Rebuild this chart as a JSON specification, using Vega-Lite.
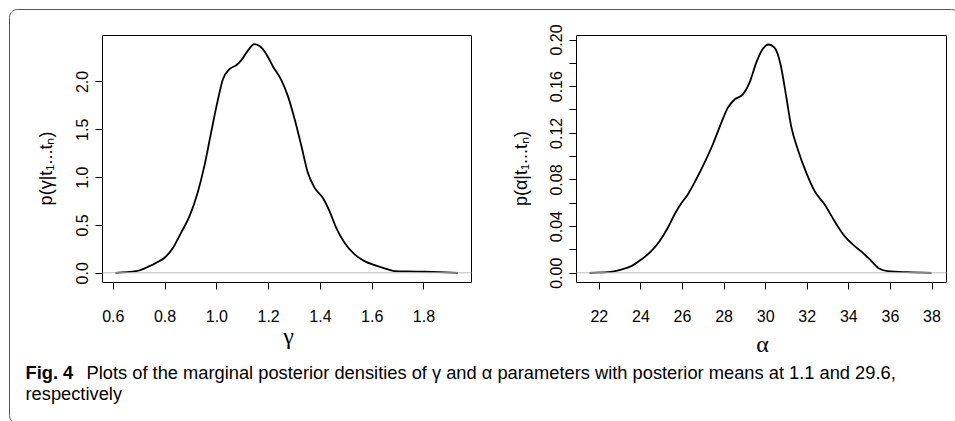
{
  "$schema": "https://vega.github.io/schema/vega-lite/v6.json",
  "width": 950,
  "height": 414,
  "autosize": {"type": "none"},
  "padding": {"left": 9, "top": 9, "right": 0, "bottom": 0},
  "background": "white",
  "config": {
    "view": {"stroke": "#555555", "strokeWidth": 1, "cornerRadius": 8},
    "axis": {
      "grid": false,
      "labelFont": "Liberation Sans",
      "labelFontSize": 16,
      "labelColor": "black",
      "labelFlush": false,
      "labelOverlap": false,
      "tickColor": "black",
      "tickSize": 7,
      "tickWidth": 1,
      "domainColor": "black",
      "domainWidth": 1,
      "titleFont": "Liberation Sans",
      "titleFontWeight": "normal",
      "titleColor": "black"
    }
  },
  "datasets": {
    "gamma": [
      {"gamma": 0.610, "density": 0.0},
      {"gamma": 0.690, "density": 0.017},
      {"gamma": 0.742, "density": 0.07},
      {"gamma": 0.768, "density": 0.105},
      {"gamma": 0.800, "density": 0.157},
      {"gamma": 0.832, "density": 0.26},
      {"gamma": 0.864, "density": 0.42},
      {"gamma": 0.896, "density": 0.59},
      {"gamma": 0.928, "density": 0.84},
      {"gamma": 0.954, "density": 1.12},
      {"gamma": 0.980, "density": 1.47},
      {"gamma": 1.006, "density": 1.81},
      {"gamma": 1.025, "density": 2.02},
      {"gamma": 1.051, "density": 2.13},
      {"gamma": 1.077, "density": 2.17},
      {"gamma": 1.096, "density": 2.22},
      {"gamma": 1.121, "density": 2.32},
      {"gamma": 1.147, "density": 2.39},
      {"gamma": 1.167, "density": 2.37},
      {"gamma": 1.192, "density": 2.29},
      {"gamma": 1.218, "density": 2.16},
      {"gamma": 1.250, "density": 2.02},
      {"gamma": 1.276, "density": 1.85},
      {"gamma": 1.302, "density": 1.61},
      {"gamma": 1.328, "density": 1.33},
      {"gamma": 1.353, "density": 1.05},
      {"gamma": 1.379, "density": 0.89},
      {"gamma": 1.411, "density": 0.785},
      {"gamma": 1.437, "density": 0.645},
      {"gamma": 1.463, "density": 0.47},
      {"gamma": 1.495, "density": 0.314},
      {"gamma": 1.534, "density": 0.192},
      {"gamma": 1.572, "density": 0.122},
      {"gamma": 1.617, "density": 0.076},
      {"gamma": 1.656, "density": 0.042},
      {"gamma": 1.688, "density": 0.017},
      {"gamma": 1.772, "density": 0.013},
      {"gamma": 1.862, "density": 0.007},
      {"gamma": 1.933, "density": 0.0}
    ],
    "alpha": [
      {"alpha": 21.55, "density": 0.0},
      {"alpha": 22.43, "density": 0.0005},
      {"alpha": 23.08, "density": 0.0028},
      {"alpha": 23.56, "density": 0.0057},
      {"alpha": 24.04, "density": 0.0114},
      {"alpha": 24.52, "density": 0.0185},
      {"alpha": 24.92, "density": 0.0271},
      {"alpha": 25.32, "density": 0.0386},
      {"alpha": 25.64, "density": 0.050},
      {"alpha": 25.96, "density": 0.0594},
      {"alpha": 26.28, "density": 0.0671},
      {"alpha": 26.68, "density": 0.080},
      {"alpha": 27.08, "density": 0.0943},
      {"alpha": 27.48, "density": 0.110},
      {"alpha": 27.89, "density": 0.1286},
      {"alpha": 28.20, "density": 0.1414},
      {"alpha": 28.53, "density": 0.1486},
      {"alpha": 28.93, "density": 0.1529},
      {"alpha": 29.25, "density": 0.163},
      {"alpha": 29.57, "density": 0.180},
      {"alpha": 29.89, "density": 0.192},
      {"alpha": 30.16, "density": 0.1957},
      {"alpha": 30.45, "density": 0.193},
      {"alpha": 30.74, "density": 0.1786},
      {"alpha": 31.01, "density": 0.1514},
      {"alpha": 31.25, "density": 0.1257},
      {"alpha": 31.57, "density": 0.1057},
      {"alpha": 31.98, "density": 0.0857},
      {"alpha": 32.38, "density": 0.070},
      {"alpha": 32.86, "density": 0.0586},
      {"alpha": 33.34, "density": 0.0442},
      {"alpha": 33.82, "density": 0.0314},
      {"alpha": 34.31, "density": 0.0228},
      {"alpha": 34.70, "density": 0.0171},
      {"alpha": 35.11, "density": 0.010},
      {"alpha": 35.50, "density": 0.0034},
      {"alpha": 35.90, "density": 0.0014},
      {"alpha": 36.86, "density": 0.0005},
      {"alpha": 38.0, "density": 0.0}
    ]
  },
  "layer": [
    {
      "data": {"name": "gamma"},
      "resolve": {"axis": {"x": "independent", "y": "independent"}},
      "layer": [
        {
          "mark": {"type": "line", "color": "black", "strokeWidth": 1.8, "interpolate": "monotone"},
          "encoding": {
            "x": {"field": "gamma", "type": "quantitative",
              "scale": {"domain": [0.5583, 1.9835], "range": [93, 462], "nice": false, "zero": false},
              "axis": {"orient": "bottom", "offset": -141, "values": [0.6, 0.8, 1.0, 1.2, 1.4, 1.6, 1.8], "format": ".1f",
                "labelBaseline": "alphabetic", "labelPadding": 32,
                "title": "γ", "titleFont": "Liberation Serif", "titleFontSize": 24, "titleX": 279, "titleY": 61, "titleAlign": "center", "titleBaseline": "alphabetic"}},
            "y": {"field": "density", "type": "quantitative",
              "scale": {"domain": [-0.0962, 2.486], "range": [273, 26], "nice": false, "zero": false},
              "axis": {"orient": "left", "offset": -93, "values": [0, 0.5, 1.0, 1.5, 2.0], "format": ".1f",
                "labelAngle": -90, "labelAlign": "center", "labelBaseline": "alphabetic", "labelPadding": 7.5,
                "title": "p(γ|t₁...tₙ)", "titleFontSize": 18, "titleAngle": -90, "titleX": -51, "titleY": 159, "titleAlign": "center", "titleBaseline": "alphabetic"}}
          }
        },
        {
          "mark": {"type": "line", "strokeOpacity": 0},
          "encoding": {
            "x": {"field": "gamma", "type": "quantitative",
              "scale": {"domain": [0.5583, 1.9835], "range": [93, 462], "nice": false, "zero": false},
              "axis": {"orient": "top", "offset": -26, "ticks": false, "labels": false,
                "title": "respectively", "titleFont": "Liberation Sans", "titleFontSize": 18.3, "titleX": 16, "titleY": 364, "titleAlign": "left", "titleBaseline": "alphabetic"}},
            "y": {"field": "density", "type": "quantitative",
              "scale": {"domain": [-0.0962, 2.486], "range": [273, 26], "nice": false, "zero": false},
              "axis": {"orient": "right", "offset": -488, "ticks": false, "labels": false, "title": null}}
          }
        },
        {
          "mark": {"type": "line", "strokeOpacity": 0},
          "encoding": {
            "x": {"field": "gamma", "type": "quantitative",
              "scale": {"domain": [0.5583, 1.9835], "range": [93, 462], "nice": false, "zero": false},
              "axis": {"orient": "bottom", "offset": -150.7, "ticks": false, "labels": false, "domainColor": "#bebebe", "zindex": 1,
                "title": "Fig. 4", "titleFont": "Liberation Sans", "titleFontWeight": "bold", "titleFontSize": 18.3, "titleX": 16, "titleY": 106.2, "titleAlign": "left", "titleBaseline": "alphabetic"}},
            "y": {"field": "density", "type": "quantitative",
              "scale": {"domain": [-0.0962, 2.486], "range": [273, 26], "nice": false, "zero": false},
              "axis": null}
          }
        }
      ]
    },
    {
      "data": {"name": "alpha"},
      "resolve": {"axis": {"x": "independent", "y": "independent"}},
      "layer": [
        {
          "mark": {"type": "line", "color": "black", "strokeWidth": 1.8, "interpolate": "monotone"},
          "encoding": {
            "x": {"field": "alpha", "type": "quantitative",
              "scale": {"domain": [20.903, 38.697], "range": [567, 937], "nice": false, "zero": false},
              "axis": {"orient": "bottom", "offset": -141, "values": [22, 24, 26, 28, 30, 32, 34, 36, 38], "format": "d",
                "labelBaseline": "alphabetic", "labelPadding": 32,
                "title": "α", "titleFont": "Liberation Serif", "titleFontSize": 24, "titleX": 753, "titleY": 69, "titleAlign": "center", "titleBaseline": "alphabetic"}},
            "y": {"field": "density", "type": "quantitative",
              "scale": {"domain": [-0.00789, 0.20386], "range": [273, 26], "nice": false, "zero": false},
              "axis": {"orient": "left", "offset": -567, "values": [0, 0.02, 0.04, 0.06, 0.08, 0.10, 0.12, 0.14, 0.16, 0.18, 0.20],
                "labelExpr": "(round(datum.value * 100) % 4 == 0) ? format(datum.value, '.2f') : ''",
                "labelAngle": -90, "labelAlign": "center", "labelBaseline": "alphabetic", "labelPadding": 7.5,
                "title": "p(α|t₁...tₙ)", "titleFontSize": 18, "titleAngle": -90, "titleX": -50, "titleY": 159, "titleAlign": "center", "titleBaseline": "alphabetic"}}
          }
        },
        {
          "mark": {"type": "line", "strokeOpacity": 0},
          "encoding": {
            "x": {"field": "alpha", "type": "quantitative",
              "scale": {"domain": [20.903, 38.697], "range": [567, 937], "nice": false, "zero": false},
              "axis": {"orient": "top", "offset": -26, "ticks": false, "labels": false, "title": null}},
            "y": {"field": "density", "type": "quantitative",
              "scale": {"domain": [-0.00789, 0.20386], "range": [273, 26], "nice": false, "zero": false},
              "axis": {"orient": "right", "offset": -13, "ticks": false, "labels": false, "title": null}}
          }
        },
        {
          "mark": {"type": "line", "strokeOpacity": 0},
          "encoding": {
            "x": {"field": "alpha", "type": "quantitative",
              "scale": {"domain": [20.903, 38.697], "range": [567, 937], "nice": false, "zero": false},
              "axis": {"orient": "bottom", "offset": -150.7, "ticks": false, "labels": false, "domainColor": "#bebebe", "zindex": 1,
                "title": "Plots of the marginal posterior densities of γ and α parameters with posterior means at 1.1 and 29.6,", "titleFont": "Liberation Sans", "titleFontSize": 18.3, "titleX": 77, "titleY": 106.2, "titleAlign": "left", "titleBaseline": "alphabetic", "titleLimit": 0}},
            "y": {"field": "density", "type": "quantitative",
              "scale": {"domain": [-0.00789, 0.20386], "range": [273, 26], "nice": false, "zero": false},
              "axis": null}
          }
        }
      ]
    }
  ],
  "resolve": {"scale": {"x": "independent", "y": "independent"}, "axis": {"x": "independent", "y": "independent"}}
}
